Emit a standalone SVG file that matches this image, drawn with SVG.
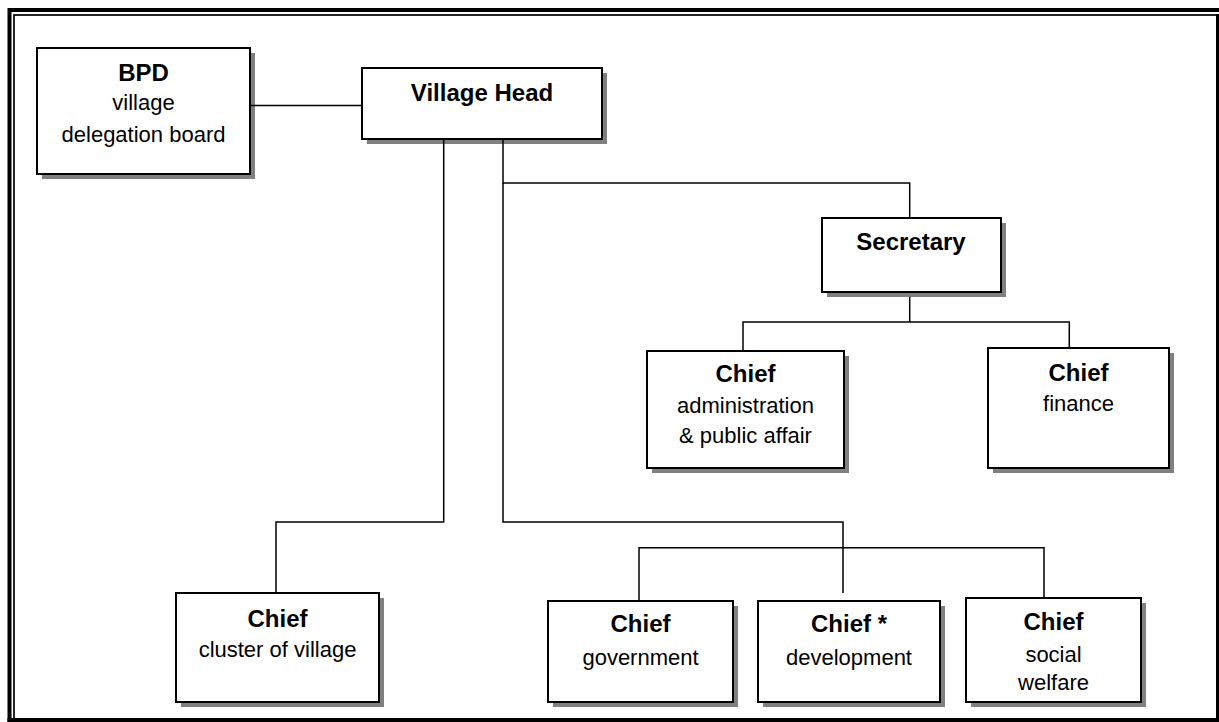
<svg xmlns="http://www.w3.org/2000/svg" width="1219" height="722" viewBox="0 0 1219 722">
<style>
.box{fill:#fff;stroke:#000;stroke-width:2}
.sh{fill:#808080}
.c{fill:none;stroke:#000;stroke-width:1.5}
.b{font-family:"Liberation Sans",Arial,sans-serif;font-weight:bold;font-size:24px;text-anchor:middle;fill:#000}
.t{font-family:"Liberation Sans",Arial,sans-serif;font-size:22px;text-anchor:middle;fill:#000}
</style>
<rect x="0" y="0" width="1219" height="722" fill="#fff"/>
<g id="frame">
<path d="M9.5 722 V10 H1219" fill="none" stroke="#000" stroke-width="4"/>
<rect x="14" y="15" width="1203.5" height="705" fill="none" stroke="#000" stroke-width="1.7"/>
<rect x="1216" y="14" width="3" height="708" fill="#000"/>
<rect x="7.5" y="718" width="1211.5" height="4" fill="#000"/>
</g>
<g id="bpd">
<rect class="sh" x="42" y="53" width="213" height="126"/>
<rect class="box" x="37" y="48" width="213" height="126"/>
<text class="b" x="143.5" y="81">BPD</text>
<text class="t" x="143.5" y="110">village</text>
<text class="t" x="143.5" y="142">delegation board</text>
</g>
<g id="village-head">
<rect class="sh" x="367" y="73" width="240" height="71"/>
<rect class="box" x="362" y="68" width="240" height="71"/>
<text class="b" x="482" y="101">Village Head</text>
</g>
<g id="secretary">
<rect class="sh" x="827" y="223" width="179" height="74"/>
<rect class="box" x="822" y="218" width="179" height="74"/>
<text class="b" x="911" y="250">Secretary</text>
</g>
<g id="chief-admin">
<rect class="sh" x="652" y="356" width="197" height="117"/>
<rect class="box" x="647" y="351" width="197" height="117"/>
<text class="b" x="745.5" y="382">Chief</text>
<text class="t" x="745.5" y="413">administration</text>
<text class="t" x="745.5" y="443">&amp; public affair</text>
</g>
<g id="chief-finance">
<rect class="sh" x="993" y="353" width="181" height="120"/>
<rect class="box" x="988" y="348" width="181" height="120"/>
<text class="b" x="1078.5" y="381">Chief</text>
<text class="t" x="1078.5" y="411">finance</text>
</g>
<g id="chief-cluster">
<rect class="sh" x="181" y="598" width="203" height="109"/>
<rect class="box" x="176" y="593" width="203" height="109"/>
<text class="b" x="277.5" y="627">Chief</text>
<text class="t" x="277.5" y="657">cluster of village</text>
</g>
<g id="chief-government">
<rect class="sh" x="553" y="606" width="185" height="101"/>
<rect class="box" x="548" y="601" width="185" height="101"/>
<text class="b" x="640.5" y="632">Chief</text>
<text class="t" x="640.5" y="665">government</text>
</g>
<g id="chief-development">
<rect class="sh" x="763" y="606" width="182" height="101"/>
<rect class="box" x="758" y="601" width="182" height="101"/>
<text class="b" x="849" y="632">Chief *</text>
<text class="t" x="849" y="665">development</text>
</g>
<g id="chief-social">
<rect class="sh" x="971" y="603" width="175" height="104"/>
<rect class="box" x="966" y="598" width="175" height="104"/>
<text class="b" x="1053.5" y="630">Chief</text>
<text class="t" x="1053.5" y="662">social</text>
<text class="t" x="1053.5" y="690">welfare</text>
</g>
<g id="connectors">
<path class="c" d="M250 105.5 H362"/>
<path class="c" d="M443.7 140 V522 H276 V593"/>
<path class="c" d="M503 140 V183 H909.7 V218"/>
<path class="c" d="M503 183 V522 H843 V593"/>
<path class="c" d="M909.7 297 V322"/>
<path class="c" d="M743 351 V322 H1069.3 V348"/>
<path class="c" d="M639 600 V547.7 H1044 V598"/>
</g>
</svg>
